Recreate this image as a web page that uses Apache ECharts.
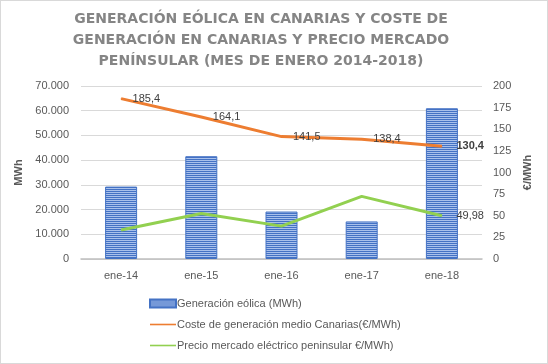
<!DOCTYPE html>
<html><head><meta charset="utf-8">
<script src="https://cdn.jsdelivr.net/npm/echarts@6/dist/echarts.min.js"></script>
<style>
html,body{margin:0;padding:0;background:#fff;}
#c{position:absolute;left:0;top:0;width:546px;height:362px;border:1px solid #d9d9d9;}
</style></head>
<body><div id="c"></div>
<script>
const categories = ['ene-14','ene-15','ene-16','ene-17','ene-18'];
const generacionEolica = [29300, 41600, 19200, 15200, 61000];
const costeCanarias = [185.4, 164.1, 141.5, 138.4, 130.4];
const precioPeninsular = [33.6, 52.6, 38.0, 72.4, 49.98];
const leftTicks = [0, 10000, 20000, 30000, 40000, 50000, 60000, 70000];
const rightTicks = [0, 25, 50, 75, 100, 125, 150, 175, 200];
const titleLines = ['GENERACIÓN EÓLICA EN CANARIAS Y COSTE DE','GENERACIÓN EN CANARIAS Y PRECIO MERCADO','PENÍNSULAR (MES DE ENERO 2014-2018)'];
const seriesNames = ['Generación eólica (MWh)','Coste de generación medio Canarias(€/MWh)','Precio mercado eléctrico peninsular €/MWh)'];

function stripePattern(){
  const cv = document.createElement('canvas');
  cv.width = 4; cv.height = 2;
  const ctx = cv.getContext('2d');
  ctx.fillStyle = '#4472C4'; ctx.fillRect(0,0,4,1);
  ctx.fillStyle = '#A9C1EC'; ctx.fillRect(0,1,4,1);
  return cv;
}
const pat = {image: stripePattern(), repeat: 'repeat'};
const FONT = '"Liberation Sans", sans-serif';
const fmtThousands = v => v === 0 ? '0' : String(v).replace(/\B(?=(\d{3})+(?!\d))/g, '.');
const fmtComma = v => String(v).replace('.', ',');
const lastIdx = costeCanarias.length - 1;

const chart = echarts.init(document.getElementById('c'), null, {renderer:'canvas'});
chart.setOption({
  animation:false,
  textStyle:{fontFamily:FONT},
  title:{
    text: titleLines.join('\n'),
    left:255, top:3, padding:5, textAlign:'center',
    textStyle:{fontFamily:'"DejaVu Sans", sans-serif', fontSize:14, fontWeight:'bold', color:'#858585', lineHeight:21}
  },
  legend:{
    orient:'vertical', left:143, top:292, itemGap:10, itemWidth:26, itemHeight:8,
    textStyle:{fontSize:11, color:'#595959', fontFamily:FONT, padding:[0,0,0,-4]},
    data:[
      {name:seriesNames[0], icon:'rect'},
      {name:seriesNames[1], icon:'path://M0,3.2 L26,3.2 L26,4.8 L0,4.8 Z'},
      {name:seriesNames[2], icon:'path://M0,3.2 L26,3.2 L26,4.8 L0,4.8 Z'}
    ]
  },
  grid:{left:80, right:65, top:85, bottom:104, containLabel:false},
  xAxis:{
    type:'category', data:categories,
    axisLine:{lineStyle:{color:'#bfbfbf', width:1.5}},
    axisTick:{show:false},
    axisLabel:{color:'#595959', fontSize:11, margin:11, fontFamily:FONT}
  },
  yAxis:[
    {type:'value', min:0, max:70000, interval:10000, position:'left',
     name:'MWh', nameLocation:'middle', nameRotate:90, nameGap:46,
     nameTextStyle:{fontWeight:'bold', color:'#595959', fontSize:11, fontFamily:FONT},
     axisLabel:{color:'#595959', fontSize:11, margin:12, formatter:fmtThousands, fontFamily:FONT},
     splitLine:{lineStyle:{color:'#d9d9d9'}},
     axisLine:{show:false}, axisTick:{show:false}},
    {type:'value', min:0, max:200, interval:25, position:'right',
     name:'€/MWh', nameLocation:'middle', nameRotate:90, nameGap:34,
     nameTextStyle:{fontWeight:'bold', color:'#595959', fontSize:11, fontFamily:FONT},
     axisLabel:{color:'#595959', fontSize:11, margin:11, fontFamily:FONT},
     splitLine:{show:false}, axisLine:{show:false}, axisTick:{show:false}}
  ],
  series:[
    {name:seriesNames[0], type:'bar', yAxisIndex:0, data:generacionEolica, barWidth:32,
     itemStyle:{color:pat, borderColor:'#4472C4', borderWidth:1}},
    {name:seriesNames[1], type:'line', yAxisIndex:1,
     data: costeCanarias.map((v,i)=> i===lastIdx ? {value:v, label:{fontWeight:'bold', distance:14}} : v),
     symbol:'circle', symbolSize:1, showSymbol:true, lineStyle:{color:'#ED7D31', width:3}, itemStyle:{color:'#ED7D31'},
     label:{show:true, position:'right', distance:11, color:'#404040', fontSize:11, fontFamily:FONT,
       formatter:p => fmtComma(p.value)}},
    {name:seriesNames[2], type:'line', yAxisIndex:1, data:precioPeninsular,
     symbol:'circle', symbolSize:1, showSymbol:true, lineStyle:{color:'#92D050', width:3}, itemStyle:{color:'#92D050'},
     label:{show:true, position:'right', distance:14, color:'#404040', fontSize:11, fontFamily:FONT,
       formatter:p => p.dataIndex === lastIdx ? fmtComma(p.value) : ''}}
  ]
});
</script></body></html>
